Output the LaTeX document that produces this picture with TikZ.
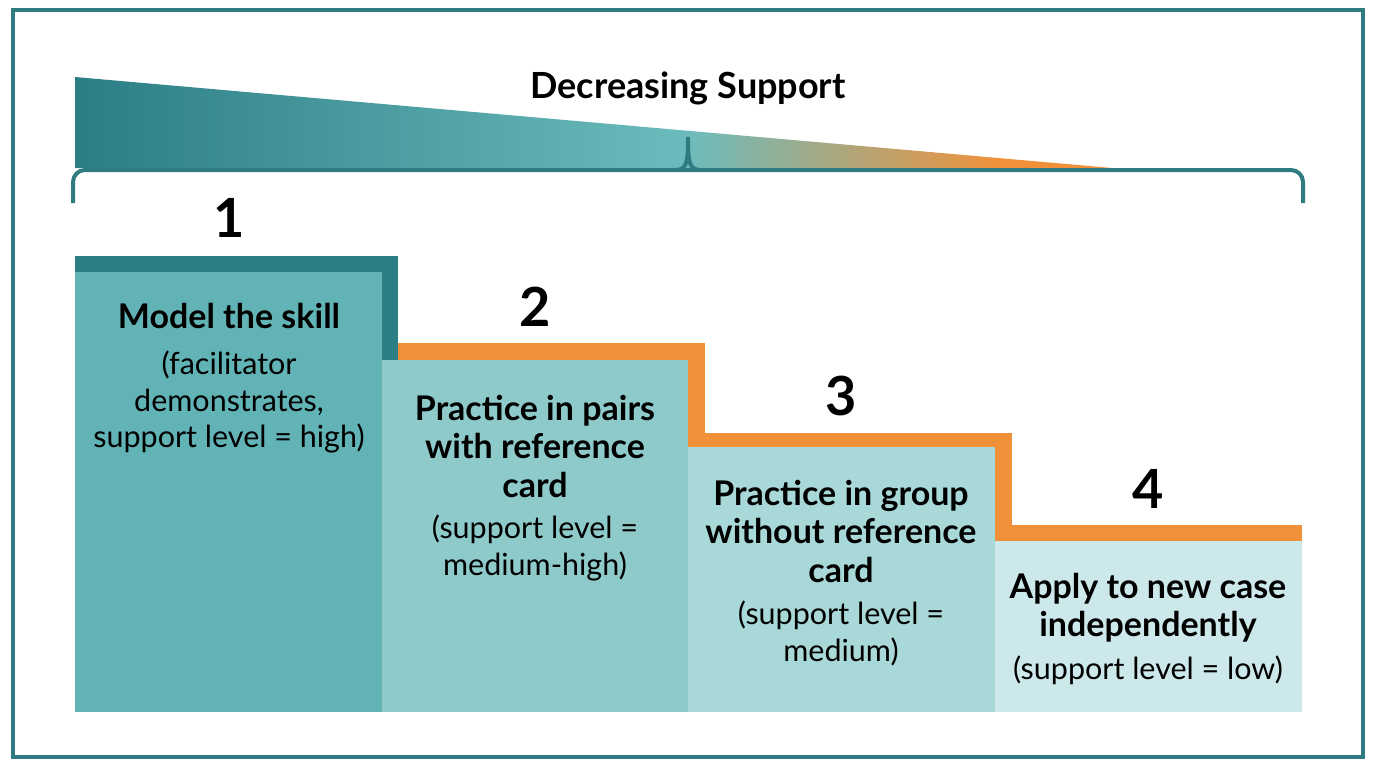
\documentclass[tikz,border=0pt]{standalone}
\usepackage{fontspec}
\setmainfont{Lato}
\usetikzlibrary{positioning}
\definecolor{tealdark}{HTML}{2B7E85}
\definecolor{teallight}{HTML}{6CBCBD}
\definecolor{stepone}{HTML}{62B3B5}
\definecolor{steptwo}{HTML}{8ECACA}
\definecolor{stepthree}{HTML}{A9D8D8}
\definecolor{stepfour}{HTML}{CDE8EA}
\definecolor{stepedge}{HTML}{F0913A}
\definecolor{frame}{HTML}{2E7B80}
\tikzset{
  steptitle/.style={anchor=north, inner sep=0pt, align=center, font=\bfseries\fontsize{34}{38.5}\selectfont},
  stepnote/.style={anchor=north, inner sep=0pt, align=center, font=\fontsize{30.5}{36.5}\selectfont},
  stepnum/.style={anchor=base, inner sep=0pt, font=\bfseries\fontsize{54}{60}\selectfont},
  bracepen/.style={frame, line width=4pt}
}

\begin{document}
\begin{tikzpicture}[x=1pt,y=-1pt]
		%%%%% START %%%%%
		\useasboundingbox (0,0) rectangle (1376,768);
		\draw[frame, line width=3.5pt] (13,10) rectangle (1363,757);
		
		% support wedge
		\begin{scope}
			\clip (75,77) -- (1112,168) -- (75,168) -- cycle;
			\shade[left color=tealdark, right color=teallight] (75,70) rectangle (690,170);
			\shade[left color=teallight, right color=stepedge] (688,70) rectangle (1000,170);
			\fill[stepedge] (999,70) rectangle (1115,170);
		\end{scope}
		\node[anchor=base, inner sep=0pt, font=\bfseries\fontsize{36}{40}\selectfont] (support) at (688,99) {Decreasing Support};
		
		% brace
		\draw[bracepen, rounded corners=12pt] (73,203) -- (73,170) -- (1303,170) -- (1303,203);
		\draw[bracepen] (674,170) .. controls (686,170) and (688,166) .. (688,137) .. controls (688,166) and (690,170) .. (702,170);
		
		% steps
		\fill[tealdark] (75,256) rectangle (398,360);
		\fill[stepone] (75,272) rectangle (382,712);
		\fill[stepedge] (398,343) rectangle (705,447);
		\fill[steptwo] (382,360) rectangle (688,712);
		\fill[stepedge] (705,433) rectangle (1012,541);
		\fill[stepthree] (688,447) rectangle (995,712);
		\fill[stepedge] (1012,525) rectangle (1302,541);
		\fill[stepfour] (995,541) rectangle (1302,712);
		
		\node[stepnum] (num1) at (229,237) {1};
		\node[stepnum] (num2) at (535,326) {2};
		\node[stepnum] (num3) at (841,415) {3};
		\node[stepnum] (num4) at (1148,508) {4};
		
		\node[steptitle] (title1) at (229,303) {Model the skill};
		\node[stepnote] (note1) at (229,351) {(facilitator\\demonstrates,\\support level = high)};
		\node[steptitle] (title2) at (535,395) {Practice in pairs\\with reference\\card};
		\node[stepnote] (note2) at (535,515) {(support level =\\medium-high)};
		\node[steptitle] (title3) at (841,480) {Practice in group\\without reference\\card};
		\node[stepnote] (note3) at (841,601) {(support level =\\medium)};
		\node[steptitle] (title4) at (1148,573) {Apply to new case\\independently};
		\node[stepnote] (note4) at (1148,656) {(support level = low)};
		%%%%% END %%%%%
\end{tikzpicture}
\end{document}
